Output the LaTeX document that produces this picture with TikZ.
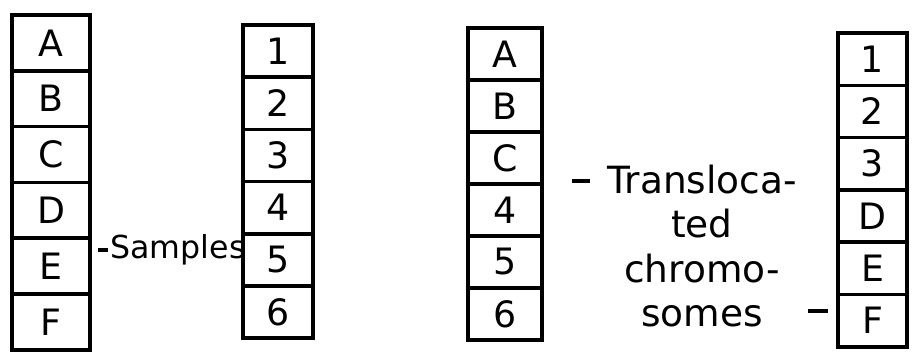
\documentclass[tikz,border=0pt]{standalone}
\usepackage{fontspec}
\setmainfont{DejaVu Sans}
\usepackage{tikz}
\usetikzlibrary{positioning}

\tikzset{
  seg/.style={draw,line width=3pt,inner sep=0pt,font=\fontsize{31}{36}\selectfont},
  lbl/.style={inner sep=2pt,font=\fontsize{27}{38}\selectfont,align=center},
  tick/.style={line width=2.6pt}
}

\begin{document}
\begin{tikzpicture}[x=0.03cm,y=-0.03cm]
  \useasboundingbox (0,0) rectangle (921,359);
  % normal chromosomes
  \foreach \l [count=\i] in {A,B,C,D,E,F}
     \node[seg,minimum width=2.34cm,minimum height=1.674cm] (a\i) at (51,15+55.8*\i-27.9) {\l};
  \foreach \l [count=\i] in {1,2,3,4,5,6}
     \node[seg,minimum width=2.1cm,minimum height=1.566cm] (b\i) at (278,25+52.2*\i-26.1) {\l};
  \node[lbl] (samp) at (178,250) {Samples};
  \coordinate (sd) at (98,250);
  \draw[tick] (sd) -- (samp.west);
  % translocated chromosomes
  \foreach \l [count=\i] in {A,B,C,4,5,6}
     \node[seg,minimum width=2.22cm,minimum height=1.56cm] (c\i) at (505,28+52*\i-26) {\l};
  \foreach \l [count=\i] in {1,2,3,D,E,F}
     \node[seg,minimum width=2.07cm,minimum height=1.57cm] (d\i) at (872.5,33+52.3*\i-26.15) {\l};
  \node[lbl,font=\fontsize{32}{38}\selectfont] (trans) at (702,246) {Transloca-\\ted\\chromo-\\somes};
  \coordinate (t1) at (572,181);
  \coordinate (t2) at (590,181);
  \coordinate (t3) at (808,311);
  \coordinate (t4) at (828,311);
  \draw[tick] (t1) -- (t2);
  \draw[tick] (t3) -- (t4);
\end{tikzpicture}
\end{document}
